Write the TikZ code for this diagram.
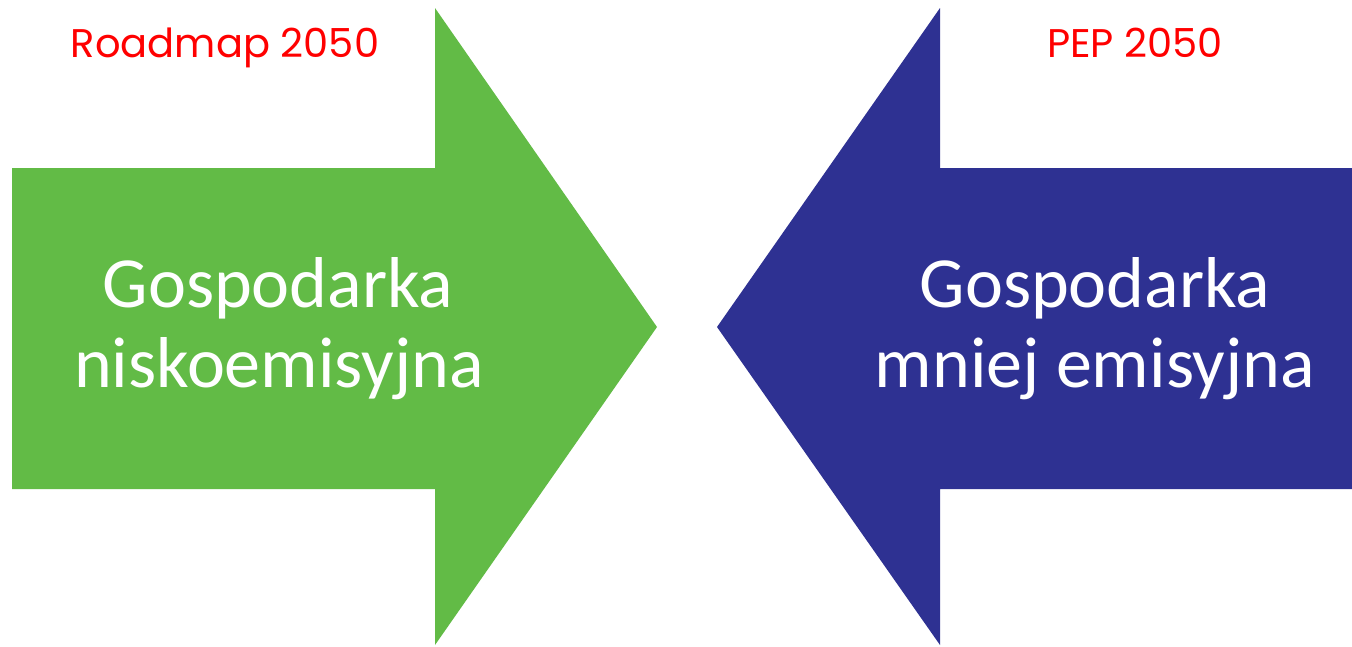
\documentclass[tikz,border=0pt]{standalone}
\usepackage{fontspec}
\setmainfont{Carlito}
\newfontfamily\titlefont{Poppins}
\definecolor{arrowgreen}{HTML}{62BB46}
\definecolor{arrowblue}{HTML}{2E3192}
\definecolor{labelred}{HTML}{FF0000}
\begin{document}
\begin{tikzpicture}[x=1pt,y=-1pt,
  bigtext/.style={text=white,font=\fontsize{72}{80}\selectfont,align=center,anchor=base,inner sep=0pt},
  tagtext/.style={text=labelred,font=\titlefont\fontsize{40}{46}\selectfont,anchor=base,inner sep=0pt}]
\useasboundingbox (0,0) rectangle (1352,646);
% right-pointing arrow
\fill[arrowgreen] (12,168) -- (435,168) -- (435,8) -- (657,327) -- (435,645) -- (435,489) -- (12,489) -- cycle;
% left-pointing arrow
\fill[arrowblue] (1352,168) -- (940,168) -- (940,8) -- (717,327) -- (940,645) -- (940,489) -- (1352,489) -- cycle;
\node[bigtext] (g1) at (278,307) {Gospodarka};
\node[bigtext] (g2) at (279,387) {niskoemisyjna};
\node[bigtext] (b1) at (1095,307) {Gospodarka};
\node[bigtext] (b2) at (1095,387) {mniej emisyjna};
\node[tagtext] (road) at (225,57) {Roadmap 2050};
\node[tagtext] (pep) at (1135,57) {PEP 2050};
\end{tikzpicture}
\end{document}
